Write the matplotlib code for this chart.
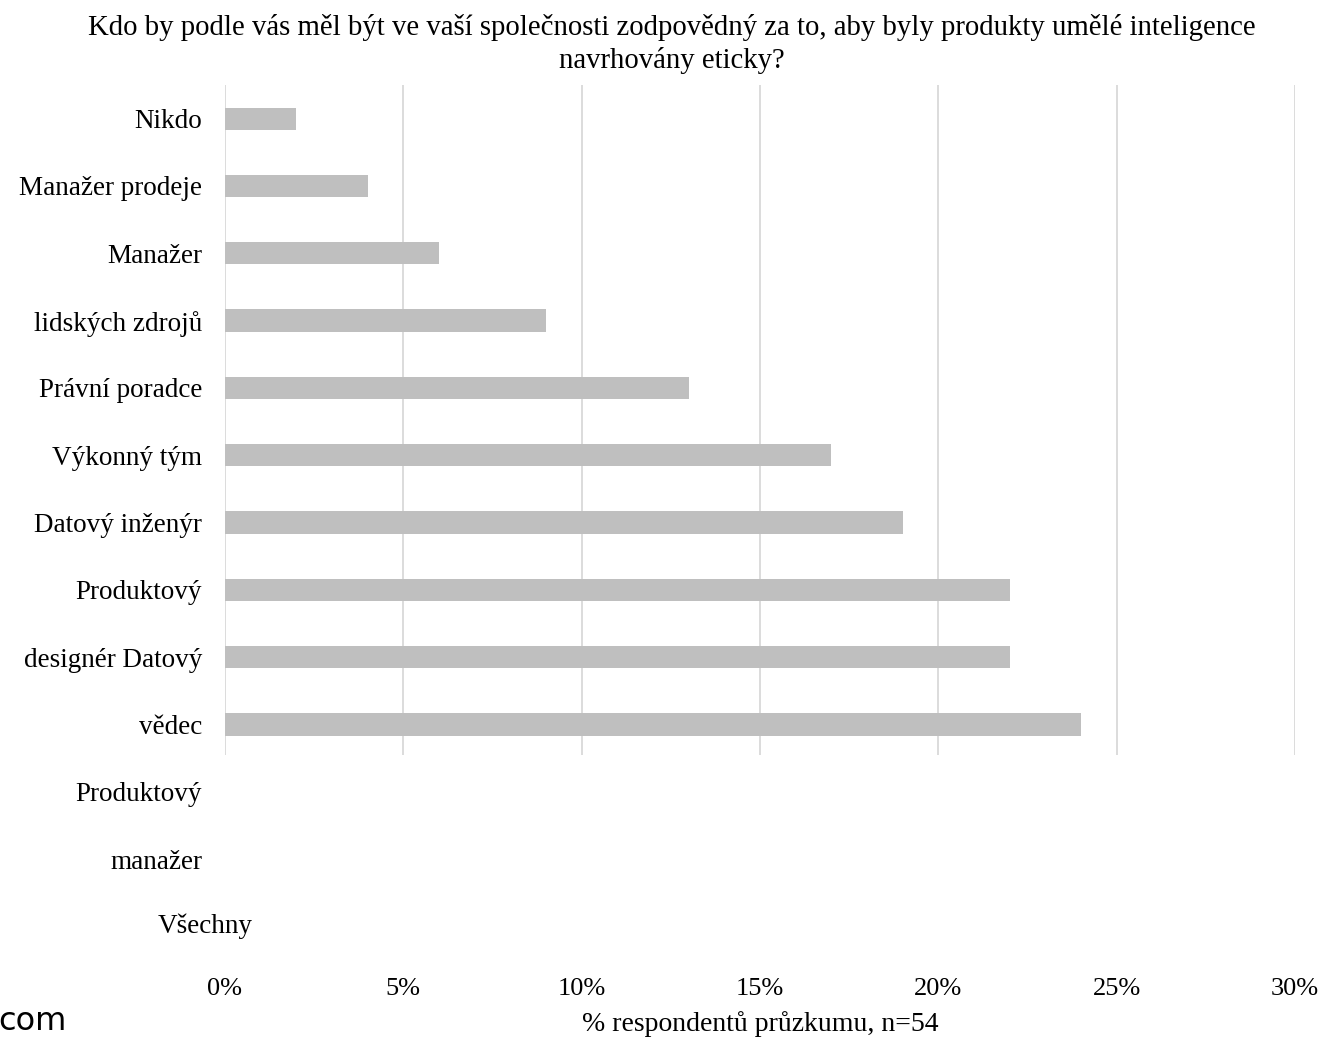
import matplotlib.pyplot as plt
from matplotlib.transforms import ScaledTranslation

labels = ["Nikdo", "Manažer prodeje", "Manažer", "lidských zdrojů", "Právní poradce",
          "Výkonný tým", "Datový inženýr", "Produktový", "designér Datový", "vědec",
          "Produktový", "manažer", "Všechny"]
values = [2, 4, 6, 9, 13, 17, 19, 22, 22, 24]
xticks = [0, 5, 10, 15, 20, 25, 30]

plt.rcParams['font.family'] = ['Liberation Serif', 'DejaVu Serif']

W, H = 1326, 1037
fig = plt.figure(figsize=(W / 100, H / 100), dpi=100)
ax = fig.add_axes([225 / W, 1 - 960 / H, (1295 - 225) / W, (960 - 85) / H])

ax.barh(range(len(values)), values, height=0.33, color='#bfbfbf', zorder=2)
ax.vlines(xticks, -0.5, 9.45, color='#d9d9d9', linewidth=1.3, zorder=1)

ax.set_xlim(0, 30)
ax.set_ylim(12.5, -0.5)
ax.set_xticks(xticks)
ax.set_xticklabels([f"{t}%" for t in xticks], fontsize=19)
ax.set_yticks(range(len(labels) - 1))
ax.set_yticklabels(labels[:-1], fontsize=19.5)
ax.tick_params(axis='y', length=0, pad=16.5)
ax.tick_params(axis='x', length=0, pad=13)
for s in ax.spines.values():
    s.set_visible(False)

# last label sits shifted right in the original
ax.text(0, len(labels) - 1, labels[-1], fontsize=19.5, ha='right', va='center',
        transform=ax.get_yaxis_transform() + ScaledTranslation(28 / 100, 0, fig.dpi_scale_trans))

ax.set_xlabel("% respondentů průzkumu, n=54", fontsize=20, labelpad=8)

fig.text(672 / W, 1 - 44 / H,
         "Kdo by podle vás měl být ve vaší společnosti zodpovědný za to, aby byly produkty umělé inteligence\nnavrhovány eticky?",
         ha='center', va='center', fontsize=20.7, linespacing=1.3)

fig.text(-2 / W, 1 - 1021 / H, "com", fontsize=23, family='DejaVu Sans', ha='left', va='center')

fig.savefig("out.png", dpi=100)
